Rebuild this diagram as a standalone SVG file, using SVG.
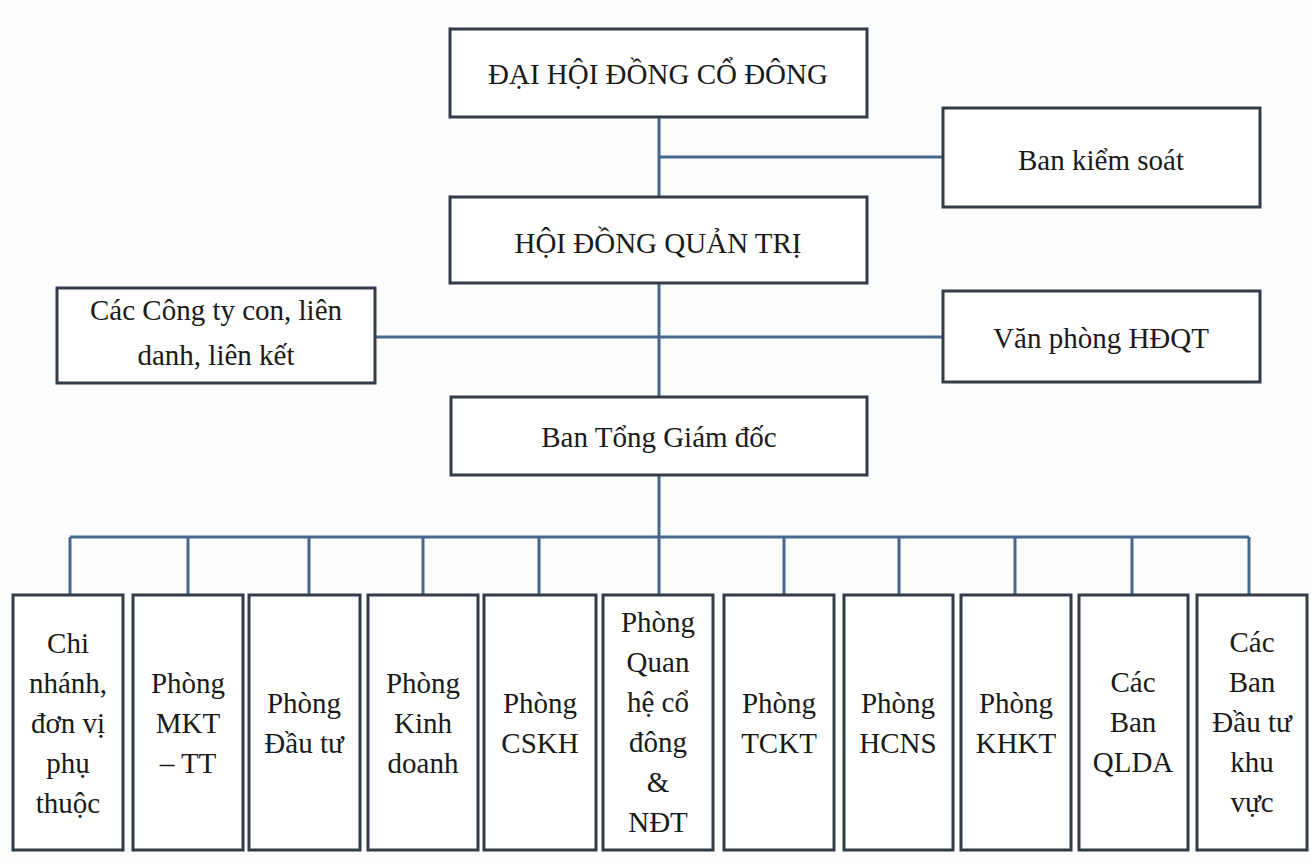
<svg xmlns="http://www.w3.org/2000/svg" width="1311" height="864" viewBox="0 0 1311 864">
<style>
.box{fill:#ffffff;stroke:#333c48;stroke-width:3}
.ln{stroke:#46688c;stroke-width:3;fill:none}
.lbl{fill:#1a1a1a;text-anchor:middle}
.t1{font-size:29px}
.t2{font-size:29px}
</style>
<rect x="0" y="0" width="1311" height="864" fill="#fdfdfd"/>
<g id="connectors">
<path class="ln" d="M659,117 V197 M659,157 H943 M659,283 V397 M375,337 H943 M659,475 V537 M70,537 H1249"/>
<path class="ln" d="M70,537 V595 M188,537 V595 M309,537 V595 M423,537 V595 M539,537 V595 M659,537 V595 M784,537 V595 M899,537 V595 M1015,537 V595 M1132,537 V595 M1249,537 V595"/>
</g>
<g class="lbl" font-family="'Liberation Serif', 'Times New Roman', 'DejaVu Serif', serif">
<g id="dhdcd"><rect class="box" x="450" y="29" width="417" height="88"/><text class="t1" x="658" y="84">ĐẠI HỘI ĐỒNG CỔ ĐÔNG</text></g>
<g id="bks"><rect class="box" x="943" y="108" width="317" height="99"/><text class="t1" x="1101" y="170">Ban kiểm soát</text></g>
<g id="hdqt"><rect class="box" x="450" y="197" width="417" height="86"/><text class="t1" x="658" y="253">HỘI ĐỒNG QUẢN TRỊ</text></g>
<g id="ctcon"><rect class="box" x="57" y="288" width="318" height="95"/><text class="t1" x="216" y="320">Các Công ty con, liên</text><text class="t1" x="216" y="365">danh, liên kết</text></g>
<g id="vphdqt"><rect class="box" x="943" y="291" width="317" height="91"/><text class="t1" x="1101" y="348">Văn phòng HĐQT</text></g>
<g id="btgd"><rect class="box" x="451" y="397" width="416" height="78"/><text class="t1" x="659" y="447">Ban Tổng Giám đốc</text></g>
<g id="b1"><rect class="box" x="13" y="595" width="110" height="255"/><text class="t2" x="68" y="653">Chi</text><text class="t2" x="68" y="693">nhánh,</text><text class="t2" x="68" y="733">đơn vị</text><text class="t2" x="68" y="773">phụ</text><text class="t2" x="68" y="813">thuộc</text></g>
<g id="b2"><rect class="box" x="133" y="595" width="110" height="255"/><text class="t2" x="188" y="693">Phòng</text><text class="t2" x="188" y="733">MKT</text><text class="t2" x="188" y="773">– TT</text></g>
<g id="b3"><rect class="box" x="249" y="595" width="111" height="255"/><text class="t2" x="304" y="713">Phòng</text><text class="t2" x="304" y="753">Đầu tư</text></g>
<g id="b4"><rect class="box" x="368" y="595" width="110" height="255"/><text class="t2" x="423" y="693">Phòng</text><text class="t2" x="423" y="733">Kinh</text><text class="t2" x="423" y="773">doanh</text></g>
<g id="b5"><rect class="box" x="484" y="595" width="112" height="255"/><text class="t2" x="540" y="713">Phòng</text><text class="t2" x="540" y="753">CSKH</text></g>
<g id="b6"><rect class="box" x="603" y="595" width="110" height="255"/><text class="t2" x="658" y="632">Phòng</text><text class="t2" x="658" y="672">Quan</text><text class="t2" x="658" y="712">hệ cổ</text><text class="t2" x="658" y="752">đông</text><text class="t2" x="658" y="792">&amp;</text><text class="t2" x="658" y="832">NĐT</text></g>
<g id="b7"><rect class="box" x="724" y="595" width="110" height="255"/><text class="t2" x="779" y="713">Phòng</text><text class="t2" x="779" y="753">TCKT</text></g>
<g id="b8"><rect class="box" x="844" y="595" width="109" height="255"/><text class="t2" x="898" y="713">Phòng</text><text class="t2" x="898" y="753">HCNS</text></g>
<g id="b9"><rect class="box" x="961" y="595" width="110" height="255"/><text class="t2" x="1016" y="713">Phòng</text><text class="t2" x="1016" y="753">KHKT</text></g>
<g id="b10"><rect class="box" x="1079" y="595" width="109" height="255"/><text class="t2" x="1133" y="692">Các</text><text class="t2" x="1133" y="732">Ban</text><text class="t2" x="1133" y="772">QLDA</text></g>
<g id="b11"><rect class="box" x="1197" y="595" width="110" height="255"/><text class="t2" x="1252" y="652">Các</text><text class="t2" x="1252" y="692">Ban</text><text class="t2" x="1252" y="732">Đầu tư</text><text class="t2" x="1252" y="772">khu</text><text class="t2" x="1252" y="812">vực</text></g>
</g>
</svg>
